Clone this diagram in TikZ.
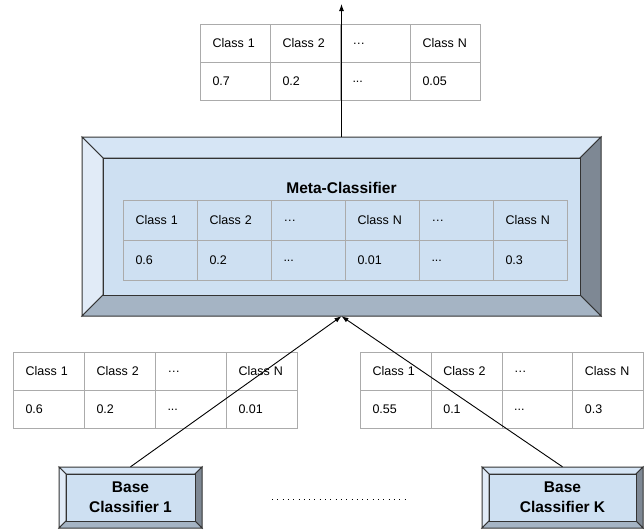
\documentclass[tikz,border=0pt]{standalone}
\usepackage{fontspec}
\setmainfont{Liberation Sans}
\usetikzlibrary{arrows.meta}

\definecolor{gridgray}{HTML}{ABABAB}
\definecolor{edgedark}{HTML}{333333}
\definecolor{bevface}{HTML}{CEE0F2}
\definecolor{bevtop}{HTML}{D6E5F5}
\definecolor{bevleft}{HTML}{E1EBF7}
\definecolor{bevright}{HTML}{7E8894}
\definecolor{bevbottom}{HTML}{A5B4C4}

% three periods for the value rows
\newcommand{\valdots}{...}

% bevelled box: x1, y1, x2, y2, bevel depth
\newcommand{\bevelbox}[5]{%
  \filldraw[bevel, fill=bevtop] (#1,#2) -- (#3,#2) -- (#3-#5,#2+#5) -- (#1+#5,#2+#5) -- cycle;
  \filldraw[bevel, fill=bevleft] (#1,#2) -- (#1+#5,#2+#5) -- (#1+#5,#4-#5) -- (#1,#4) -- cycle;
  \filldraw[bevel, fill=bevright] (#3,#2) -- (#3,#4) -- (#3-#5,#4-#5) -- (#3-#5,#2+#5) -- cycle;
  \filldraw[bevel, fill=bevbottom] (#1,#4) -- (#3,#4) -- (#3-#5,#4-#5) -- (#1+#5,#4-#5) -- cycle;
  \filldraw[bevel, fill=bevface] (#1+#5,#2+#5) rectangle (#3-#5,#4-#5);
}

\begin{document}
\begin{tikzpicture}[
x=1pt, y=-1pt,
font=\fontsize{12.5}{15}\selectfont,
bevel/.style={draw=edgedark, line width=1pt, line join=miter},
cell/.style={draw=gridgray, line width=1pt, anchor=north west, inner xsep=12pt, inner ysep=0pt, align=left},
basebox/.style={inner sep=0pt, minimum height=61pt, align=center, font=\fontsize{15.5}{20}\selectfont\bfseries},
link/.style={-{Latex[length=7pt,width=5pt]}, black, line width=0.9pt}]

\useasboundingbox (0,0) rectangle (644,531);

% output of the meta-classifier
\foreach \lab [count=\i from 0] in {Class 1, Class 2, …, Class N}
  \node[cell, text width=46pt, minimum height=38pt] (top-h\i) at (200+70*\i,24) {\lab};
\foreach \val [count=\i from 0] in {0.7, 0.2, \valdots, 0.05}
  \node[cell, text width=46pt, minimum height=38pt] (top-v\i) at (200+70*\i,62) {\val};

% outputs of the base classifiers
\foreach \lab [count=\i from 0] in {Class 1, Class 2, …, Class N}
  \node[cell, text width=47pt, minimum height=38pt] (left-h\i) at (13+71*\i,352) {\lab};
\foreach \val [count=\i from 0] in {0.6, 0.2, \valdots, 0.01}
  \node[cell, text width=47pt, minimum height=38pt] (left-v\i) at (13+71*\i,390) {\val};
\foreach \lab [count=\i from 0] in {Class 1, Class 2, …, Class N}
  \node[cell, text width=46.8pt, minimum height=38pt] (right-h\i) at (360+70.8*\i,352) {\lab};
\foreach \val [count=\i from 0] in {0.55, 0.1, \valdots, 0.3}
  \node[cell, text width=46.8pt, minimum height=38pt] (right-v\i) at (360+70.8*\i,390) {\val};

% meta-classifier
\bevelbox{82}{137}{601}{316}{21}
\node[inner sep=0pt, minimum width=519pt, minimum height=179pt] (meta) at (341.5,226.5) {};
\node[font=\fontsize{15.5}{18}\selectfont\bfseries] (metatitle) at (341.5,188) {Meta-Classifier};
\foreach \lab [count=\i from 0] in {Class 1, Class 2, …, Class N, …, Class N}
  \node[cell, text width=50pt, minimum height=40pt] (meta-h\i) at (123+74*\i,200) {\lab};
\foreach \val [count=\i from 0] in {0.6, 0.2, \valdots, 0.01, \valdots, 0.3}
  \node[cell, text width=50pt, minimum height=40pt] (meta-v\i) at (123+74*\i,240) {\val};

% base classifiers
\bevelbox{59}{467}{202}{528}{7}
\node[basebox, minimum width=143pt] (base1) at (130.5,497.5) {Base\\Classifier 1};
\bevelbox{482}{467}{643}{528}{7}
\node[basebox, minimum width=161pt] (baseK) at (562.5,497.5) {Base\\Classifier K};

\coordinate (dotsL) at (272,499);
\coordinate (dotsR) at (409,499);
\draw[line width=0.9pt, dash pattern=on 0.9pt off 4.4pt] (dotsL) -- (dotsR);

% connectors
\coordinate (out) at (341.5,4);
\draw[link] (meta.north) -- (out);
\draw[link] (base1.north) -- (meta.south);
\draw[link] (baseK.north) -- (meta.south);
\end{tikzpicture}
\end{document}
